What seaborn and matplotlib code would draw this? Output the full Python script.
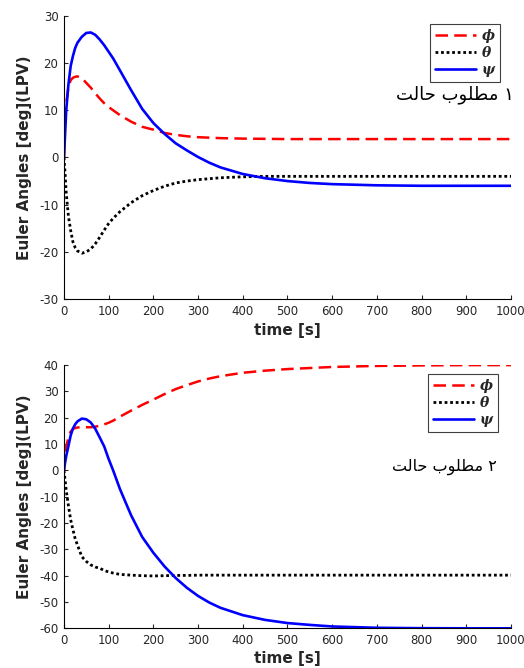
import matplotlib
matplotlib.use('agg')
import matplotlib.pyplot as plt
import pandas as pd
import seaborn as sns

# --- data ---
t = [0, 2, 5, 10, 15, 20, 25, 30, 40, 50, 60, 70, 80, 90, 100, 110, 125, 150, 175,
     200, 225, 250, 275, 300, 325, 350, 400, 450, 500, 550, 600, 700, 800, 900, 1000]

# case 1
phi1 = [0, 7.5, 11.5, 15.0, 16.4, 16.9, 17.1, 17.2, 16.8, 15.8, 14.8, 13.6, 12.5, 11.5,
        10.7, 10.0, 9.0, 7.6, 6.5, 5.9, 5.2, 4.8, 4.5, 4.3, 4.2, 4.1, 4.0, 3.95, 3.9, 3.9,
        3.9, 3.9, 3.9, 3.9, 3.9]
theta1 = [0, -2.7, -7.5, -12.5, -15.5, -17.9, -19.1, -19.8, -20.3, -20.0, -19.4, -18.3,
          -16.9, -15.4, -14.0, -12.9, -11.5, -9.6, -8.1, -7.0, -6.1, -5.4, -5.0, -4.7,
          -4.5, -4.3, -4.1, -4.0, -4.0, -4.0, -4.0, -4.0, -4.0, -4.0, -4.0]
psi1 = [0, 4.0, 10.0, 15.5, 19.4, 21.5, 23.2, 24.3, 25.6, 26.4, 26.5, 26.0, 25.0, 23.8,
        22.4, 21.0, 18.5, 14.3, 10.3, 7.3, 5.0, 3.0, 1.5, 0.1, -1.1, -2.1, -3.5, -4.4,
        -5.0, -5.4, -5.65, -5.9, -6.0, -6.0, -6.0]

# case 2
phi2 = [0, 5.0, 9.0, 12.5, 14.8, 15.7, 16.1, 16.3, 16.4, 16.4, 16.4, 16.6, 17.0, 17.5,
        18.1, 18.9, 20.4, 22.7, 24.9, 26.9, 29.0, 30.9, 32.4, 33.8, 34.9, 35.8, 37.1,
        37.9, 38.5, 38.9, 39.3, 39.7, 39.9, 40.0, 40.0]
theta2 = [0, -3.0, -7.5, -13.5, -18.8, -22.5, -25.9, -28.3, -32.8, -34.6, -35.9, -36.7,
          -37.2, -38.0, -38.6, -39.0, -39.5, -39.8, -40.0, -40.1, -40.0, -39.9, -39.9,
          -39.8, -39.8, -39.8, -39.8, -39.8, -39.8, -39.8, -39.8, -39.8, -39.8, -39.8, -39.8]
psi2 = [0, 2.5, 5.5, 9.3, 13.3, 15.9, 17.5, 18.6, 19.7, 19.4, 18.2, 15.8, 12.5, 9.1,
        4.3, 0.0, -7.0, -17.0, -25.3, -31.3, -36.5, -40.9, -44.6, -47.7, -50.2, -52.2,
        -55.0, -56.8, -58.0, -58.7, -59.3, -59.8, -59.95, -60.0, -60.0]

labels = ['\u03d5', '\u03b8', '\u03c8']   # phi, theta, psi
# "حالت مطلوب ۱/۲" written with Arabic presentation forms, in the visual order of the reference
case_titles = ['\ufe96\ufedf\ufe8e\ufea3 \ufe8f\ufeee\ufee0\ufec4\ufee3 \u06f1',
               '\ufe96\ufedf\ufe8e\ufea3 \ufe8f\ufeee\ufee0\ufec4\ufee3 \u06f2']

sns.set_style('ticks')
plt.rcParams['font.family'] = ['DejaVu Sans']
plt.rcParams['axes.unicode_minus'] = False
plt.rcParams['xtick.direction'] = 'in'
plt.rcParams['ytick.direction'] = 'in'

fig = plt.figure(figsize=(5.24, 6.68), dpi=100)
ax1 = fig.add_axes([0.1221, 0.5524, 0.853, 0.4237])
ax2 = fig.add_axes([0.1221, 0.0594, 0.853, 0.394])

panels = [
    (ax1, phi1, theta1, psi1, (-30, 30), range(-30, 31, 10), (0.975, 0.972),
     (0.868, 0.858), 13, -0.085),
    (ax2, phi2, theta2, psi2, (-60, 40), range(-60, 41, 10), (0.971, 0.966),
     (0.849, 0.301), 11.5, -0.085),
]

for i, (ax, phi, theta, psi, ylim, yticks, leg_anchor, txt_pos, txt_size, xl_y) in enumerate(panels):
    df = pd.DataFrame({'t': t, 'phi': phi, 'theta': theta, 'psi': psi})
    sns.lineplot(data=df, x='t', y='phi', ax=ax, color='red', lw=1.8,
                 linestyle=(0, (5, 2.5)), label=labels[0])
    sns.lineplot(data=df, x='t', y='theta', ax=ax, color='black', lw=2.0,
                 linestyle=(0, (1, 1)), label=labels[1])
    sns.lineplot(data=df, x='t', y='psi', ax=ax, color='blue', lw=1.9,
                 linestyle='-', label=labels[2])

    ax.set_xlim(0, 1000)
    ax.set_ylim(*ylim)
    ax.set_xticks(range(0, 1001, 100))
    ax.set_yticks(list(yticks))
    ax.tick_params(labelsize=8.5, colors='#262626', length=3, width=0.8, pad=4)
    for s in ['left', 'bottom']:
        ax.spines[s].set_color('black')
        ax.spines[s].set_linewidth(0.8)
    sns.despine(ax=ax)

    ax.set_xlabel('time [s]', fontsize=11, fontweight='bold', color='#262626')
    ax.set_ylabel('Euler Angles [deg](LPV)', fontsize=11, fontweight='bold', color='#262626')
    ax.yaxis.set_label_coords(-0.072, 0.5)
    ax.xaxis.set_label_coords(0.5, xl_y)

    leg = ax.legend(loc='upper right', bbox_to_anchor=leg_anchor, borderaxespad=0,
                    fancybox=False, framealpha=1, edgecolor='#404040',
                    handlelength=3.0, handletextpad=0.4, labelspacing=0.22,
                    borderpad=0.35,
                    prop={'family': 'DejaVu Serif', 'style': 'italic', 'weight': 'bold', 'size': 10})
    leg.get_frame().set_linewidth(0.8)

    fig.text(txt_pos[0], txt_pos[1], case_titles[i], ha='center', va='center',
             fontsize=txt_size, family=['DejaVu Sans'], color='black')

plt.savefig('out.png', dpi=100)
